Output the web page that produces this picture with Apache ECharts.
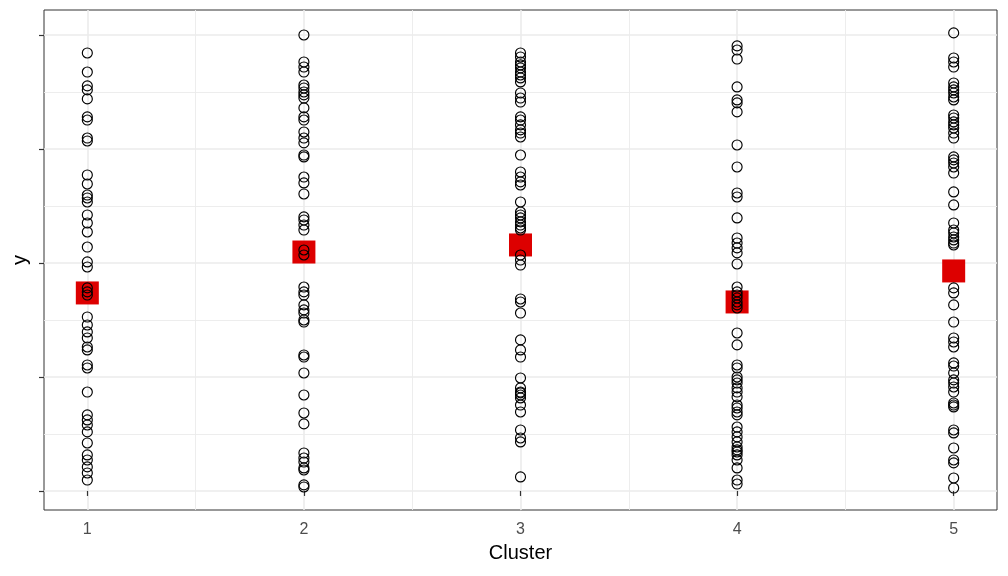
<!DOCTYPE html>
<html>
<head>
<meta charset="utf-8">
<script src="https://cdn.jsdelivr.net/npm/echarts@6/dist/echarts.min.js"></script>
<style>
html,body{margin:0;padding:0;background:#fff;}
#chart{width:1008px;height:576px;}
</style>
</head>
<body>
<div id="chart"></div>
<script>
const clusters = [1, 2, 3, 4, 5];
const cluster1Values = [3.842,3.675,3.553,3.518,3.439,3.281,3.254,3.096,3.070,2.772,2.693,2.596,2.570,2.535,2.421,2.351,2.272,2.140,2.009,1.965,1.781,1.746,1.719,1.526,1.456,1.395,1.342,1.263,1.237,1.105,1.079,0.868,0.667,0.623,0.579,0.518,0.421,0.316,0.272,0.211,0.158,0.096];
const cluster2Values = [4.000,3.763,3.719,3.675,3.561,3.535,3.500,3.474,3.447,3.360,3.281,3.254,3.149,3.096,3.053,2.947,2.930,2.754,2.702,2.605,2.404,2.377,2.333,2.289,2.114,2.070,1.789,1.746,1.719,1.632,1.588,1.561,1.500,1.482,1.193,1.175,1.035,0.842,0.684,0.588,0.333,0.289,0.254,0.202,0.184,0.053,0.035];
const cluster3Values = [3.842,3.807,3.763,3.737,3.711,3.675,3.649,3.623,3.588,3.491,3.447,3.412,3.281,3.254,3.211,3.167,3.140,3.105,2.947,2.798,2.754,2.711,2.684,2.535,2.447,2.421,2.395,2.360,2.333,2.307,2.289,2.070,2.026,1.982,1.684,1.658,1.561,1.325,1.237,1.175,0.991,0.904,0.868,0.860,0.842,0.816,0.754,0.693,0.535,0.465,0.430,0.123];
const cluster4Values = [3.904,3.868,3.789,3.544,3.430,3.404,3.325,3.035,2.842,2.614,2.579,2.395,2.219,2.175,2.132,2.088,1.991,1.789,1.746,1.719,1.693,1.658,1.632,1.605,1.386,1.281,1.105,1.079,1.000,0.974,0.947,0.904,0.868,0.825,0.754,0.728,0.693,0.667,0.561,0.518,0.474,0.430,0.386,0.360,0.342,0.316,0.272,0.202,0.096,0.061];
const cluster5Values = [4.018,3.798,3.763,3.719,3.579,3.544,3.518,3.491,3.456,3.430,3.298,3.272,3.237,3.211,3.184,3.140,3.096,2.930,2.904,2.877,2.842,2.789,2.623,2.509,2.351,2.289,2.263,2.228,2.202,2.175,2.158,1.781,1.737,1.632,1.482,1.342,1.307,1.263,1.123,1.096,1.035,0.974,0.947,0.912,0.868,0.772,0.754,0.737,0.535,0.509,0.377,0.272,0.246,0.114,0.026];
const clusterMeans = [1.737, 2.096, 2.158, 1.658, 1.930];
const xMajorTicks = [1, 2, 3, 4, 5];
const xMinorTicks = [1.5, 2.5, 3.5, 4.5];
const yMajorTicks = [0, 1, 2, 3, 4];
const yMinorTicks = [0.5, 1.5, 2.5, 3.5];

const allValues = [cluster1Values, cluster2Values, cluster3Values, cluster4Values, cluster5Values];
const pointData = [];
allValues.forEach(function (vals, i) {
  vals.forEach(function (v) { pointData.push([clusters[i], v]); });
});
const meanData = clusters.map(function (c, i) { return [c, clusterMeans[i]]; });

const FONT = 'Liberation Sans, Arial, Helvetica, sans-serif';
const chart = echarts.init(document.getElementById('chart'), null, {renderer: 'canvas'});
chart.setOption({
  animation: false,
  backgroundColor: '#ffffff',
  grid: {
    left: 44, right: 11, top: 10, bottom: 66,
    show: true, borderColor: '#333333', borderWidth: 1,
    backgroundColor: 'transparent',
    containLabel: false,
    outerBoundsMode: 'none'
  },
  xAxis: [
    {
      type: 'value', min: 0.8, max: 5.2, position: 'bottom', gridIndex: 0,
      axisLine: {show: false},
      axisTick: {show: true, length: 5, customValues: xMajorTicks, lineStyle: {color: '#333333', width: 1.2}},
      axisLabel: {show: true, customValues: xMajorTicks, margin: 12, fontSize: 16, color: '#4D4D4D', fontFamily: FONT},
      splitLine: {show: true, lineStyle: {color: '#EBEBEB', width: 1.6}},
      name: 'Cluster', nameLocation: 'middle', nameGap: 33,
      nameTextStyle: {fontSize: 20, color: '#000000', fontFamily: FONT}
    },
    {
      type: 'value', min: 0.8, max: 5.2, position: 'top', gridIndex: 0,
      axisLine: {show: false},
      axisTick: {show: false, customValues: xMinorTicks},
      axisLabel: {show: false, customValues: xMinorTicks},
      splitLine: {show: true, lineStyle: {color: '#EBEBEB', width: 0.9}}
    }
  ],
  yAxis: [
    {
      type: 'value', min: -0.167, max: 4.219, position: 'left', gridIndex: 0,
      axisLine: {show: false},
      axisTick: {show: true, length: 5, customValues: yMajorTicks, lineStyle: {color: '#333333', width: 1.2}},
      axisLabel: {show: false, customValues: yMajorTicks},
      splitLine: {show: true, lineStyle: {color: '#EBEBEB', width: 1.6}},
      name: 'y', nameLocation: 'middle', nameGap: 14, nameRotate: 90,
      nameTextStyle: {fontSize: 20, color: '#000000', fontFamily: FONT}
    },
    {
      type: 'value', min: -0.167, max: 4.219, position: 'right', gridIndex: 0,
      axisLine: {show: false},
      axisTick: {show: false, customValues: yMinorTicks},
      axisLabel: {show: false, customValues: yMinorTicks},
      splitLine: {show: true, lineStyle: {color: '#EBEBEB', width: 0.9}}
    }
  ],
  series: [
    {
      type: 'scatter', xAxisIndex: 0, yAxisIndex: 0, z: 2,
      symbol: 'rect', symbolSize: 23,
      itemStyle: {color: '#DD0000', opacity: 1},
      data: meanData,
      silent: true
    },
    {
      type: 'scatter', xAxisIndex: 0, yAxisIndex: 0, z: 3,
      symbol: 'circle', symbolSize: 10,
      itemStyle: {color: 'rgba(0,0,0,0)', borderColor: '#000000', borderWidth: 1.15, opacity: 1},
      data: pointData,
      silent: true
    }
  ]
});
</script>
</body>
</html>
